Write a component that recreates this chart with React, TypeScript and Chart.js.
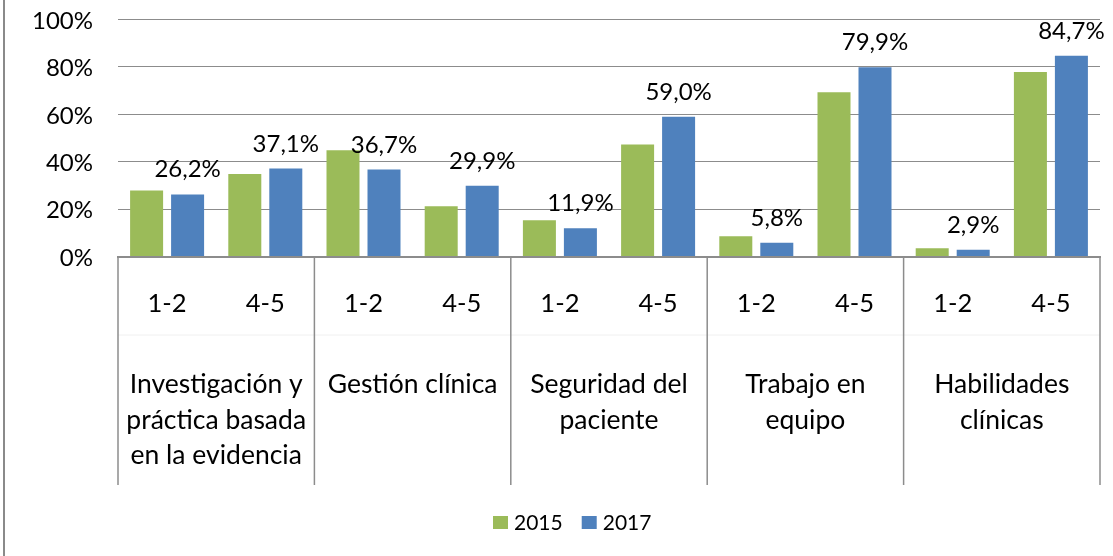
import React, { useEffect, useRef } from "react";
import { Chart, registerables } from "chart.js";

Chart.register(...registerables);

// ---- Data ----
const groupLabels: string[][] = [
  ["Investigación y", "práctica basada", "en la evidencia"],
  ["Gestión clínica"],
  ["Seguridad del", "paciente"],
  ["Trabajo en", "equipo"],
  ["Habilidades", "clínicas"],
];
const subLabels = ["1-2", "4-5"];
const categories = groupLabels.flatMap((g) => subLabels.map((s) => `${s} · ${g.join(" ")}`));
const seriesNames = ["2015", "2017"];
const values2015 = [27.9, 34.8, 44.8, 21.2, 15.3, 47.3, 8.5, 69.3, 3.5, 77.8];
const values2017 = [26.2, 37.1, 36.7, 29.9, 11.9, 59.0, 5.8, 79.9, 2.9, 84.7];
const yTickValues = [0, 20, 40, 60, 80, 100];

const FONT = "Lato, 'Noto Sans', sans-serif";
const GREEN = "#9BBB59";
const BLUE = "#4F81BD";
const AXIS_GRAY = "#8c8c8c";

const fmt = (v: number) => v.toFixed(1).replace(".", ",") + "%";

const multiAxisPlugin = {
  id: "multiAxis",
  beforeDraw(chart: any) {
    const ctx = chart.ctx;
    ctx.save();
    ctx.fillStyle = "#ffffff";
    ctx.fillRect(0, 0, chart.width, chart.height);
    ctx.fillStyle = "#8a8a8a";
    ctx.fillRect(3, 0, 2, chart.height);
    ctx.restore();
  },
  afterDraw(chart: any) {
    const ctx = chart.ctx;
    const x = chart.scales.x;
    const n = categories.length;
    const catW = (x.right - x.left) / n;
    const top = x.top;
    const bottom = top + 228.5;
    ctx.save();

    // faint separator between label rows
    ctx.strokeStyle = "#f0f0f0";
    ctx.lineWidth = 1;
    ctx.beginPath();
    ctx.moveTo(x.left, top + 78.5);
    ctx.lineTo(x.right, top + 78.5);
    ctx.stroke();

    // group dividers
    ctx.strokeStyle = AXIS_GRAY;
    ctx.lineWidth = 1.5;
    for (let g = 0; g <= groupLabels.length; g++) {
      const px = x.left + g * subLabels.length * catW;
      ctx.beginPath();
      ctx.moveTo(px, top);
      ctx.lineTo(px, bottom);
      ctx.stroke();
    }

    // sub-category labels
    ctx.fillStyle = "#000";
    ctx.font = `25.5px ${FONT}`;
    ctx.textAlign = "center";
    ctx.textBaseline = "middle";
    categories.forEach((_, i) => {
      ctx.fillText(subLabels[i % subLabels.length], x.getPixelForValue(i), top + 47);
    });

    // group labels
    ctx.font = `26.5px ${FONT}`;
    ctx.textBaseline = "alphabetic";
    groupLabels.forEach((lines, g) => {
      const i0 = g * subLabels.length;
      const cx = (x.getPixelForValue(i0) + x.getPixelForValue(i0 + subLabels.length - 1)) / 2;
      lines.forEach((line, k) => {
        ctx.fillText(line, cx, top + 136.5 + k * 35.5);
      });
    });

    // data labels on 2017 series
    const meta = chart.getDatasetMeta(1);
    ctx.font = `24px ${FONT}`;
    meta.data.forEach((el: any, i: number) => {
      ctx.fillText(fmt(values2017[i]), el.x, el.y - 17);
    });

    // legend
    ctx.font = `21px ${FONT}`;
    ctx.textAlign = "left";
    ctx.textBaseline = "middle";
    const colors = chart.data.datasets.map((d: any) => d.backgroundColor);
    let lx = 493;
    const ly = 516;
    seriesNames.forEach((name, k) => {
      ctx.fillStyle = colors[k];
      ctx.fillRect(lx, ly, 15, 13);
      ctx.fillStyle = "#000";
      ctx.fillText(name, lx + 21, ly + 7.5);
      lx += 21 + ctx.measureText(name).width + 19;
    });

    ctx.restore();
  },
};

export default function App() {
  const ref = useRef<HTMLCanvasElement | null>(null);
  useEffect(() => {
    if (!ref.current) return;
    const chart = new Chart(ref.current, {
      type: "bar",
      data: {
        labels: categories,
        datasets: [
          {
            label: seriesNames[0],
            data: values2015,
            backgroundColor: GREEN,
            categoryPercentage: 0.835,
            barPercentage: 0.805,
          },
          {
            label: seriesNames[1],
            data: values2017,
            backgroundColor: BLUE,
            categoryPercentage: 0.835,
            barPercentage: 0.805,
          },
        ],
      },
      options: {
        responsive: false,
        animation: false,
        layout: { padding: { left: 8, right: 13, top: 19.5, bottom: 0 } },
        plugins: {
          legend: { display: false },
          tooltip: { enabled: false },
        },
        scales: {
          x: {
            grid: { display: false },
            border: { display: true, color: AXIS_GRAY, width: 2 },
            ticks: { display: false },
            afterFit: (scale: any) => {
              scale.height = 299.5;
            },
          },
          y: {
            min: 0,
            max: 100,
            afterBuildTicks: (scale: any) => {
              scale.ticks = yTickValues.map((v) => ({ value: v }));
            },
            grid: {
              color: AXIS_GRAY,
              lineWidth: 1,
              drawTicks: true,
              tickLength: 25,
              tickColor: "rgba(0,0,0,0)",
            },
            border: { display: false },
            ticks: {
              padding: 0,
              labelOffset: 1.5,
              color: "#000",
              font: { family: FONT, size: 24 },
              callback: (v: any) => `${v}%`,
            },
            afterFit: (scale: any) => {
              scale.width = 110;
            },
          },
        },
      },
      plugins: [multiAxisPlugin],
    });
    return () => chart.destroy();
  }, []);

  return (
    <div style={{ position: "fixed", left: 0, top: 0, width: 1113, height: 556, background: "#fff" }}>
      <canvas ref={ref} width={1113} height={556} style={{ display: "block" }} />
    </div>
  );
}
